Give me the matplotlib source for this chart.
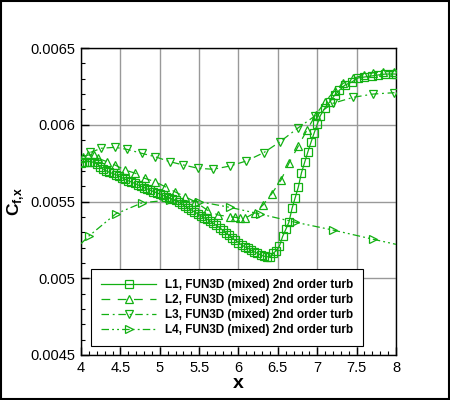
import matplotlib
matplotlib.use('Agg')
import matplotlib.pyplot as plt
from matplotlib.patches import Rectangle

plt.rcParams['font.family'] = ['Liberation Sans', 'DejaVu Sans']
plt.rcParams['mathtext.fontset'] = 'custom'
plt.rcParams['mathtext.bf'] = 'Liberation Sans:bold'
plt.rcParams['mathtext.rm'] = 'Liberation Sans'

green = '#12b012'

# L1 - squares, solid
x1 = [4.00, 4.04, 4.08, 4.12, 4.16, 4.20, 4.24, 4.28, 4.32, 4.36, 4.40, 4.44,
      4.48, 4.52, 4.56, 4.60, 4.64, 4.68, 4.72, 4.76, 4.80, 4.84, 4.88, 4.92,
      4.96, 5.00, 5.04, 5.08, 5.12, 5.16, 5.20, 5.24, 5.28, 5.32, 5.36, 5.40,
      5.44, 5.48, 5.52, 5.56, 5.60, 5.64, 5.68, 5.72, 5.76, 5.80, 5.84, 5.88,
      5.92, 5.96, 6.00, 6.04, 6.08, 6.12, 6.16, 6.20, 6.24, 6.28, 6.32, 6.36,
      6.40, 6.44, 6.48, 6.52, 6.56, 6.60, 6.64, 6.68, 6.72, 6.76, 6.80, 6.84,
      6.88, 6.92, 6.96, 7.00, 7.04, 7.10, 7.16, 7.22, 7.28, 7.35, 7.44, 7.52,
      7.60, 7.69, 7.77, 7.86, 7.96, 8.00]
y1 = [0.005750, 0.005755, 0.005760, 0.005760, 0.005755, 0.005745, 0.005728, 0.005712,
      0.005700, 0.005690, 0.005683, 0.005675, 0.005665, 0.005655, 0.005645, 0.005635,
      0.005627, 0.005618, 0.005609, 0.005600, 0.005591, 0.005582, 0.005573, 0.005565,
      0.005557, 0.005549, 0.005540, 0.005532, 0.005524, 0.005515, 0.005507, 0.005497,
      0.005485, 0.005470, 0.005457, 0.005445, 0.005433, 0.005421, 0.005408, 0.005395,
      0.005385, 0.005372, 0.005358, 0.005344, 0.005330, 0.005312, 0.005296, 0.005280,
      0.005262, 0.005248, 0.005232, 0.005217, 0.005205, 0.005195, 0.005183, 0.005172,
      0.005163, 0.005152, 0.005144, 0.005140, 0.005141, 0.005162, 0.005180, 0.005210,
      0.005272, 0.005318, 0.005365, 0.005455, 0.005525, 0.005595, 0.005688, 0.005755,
      0.005822, 0.005885, 0.005945, 0.006003, 0.006060, 0.006112, 0.006150, 0.006192,
      0.006224, 0.006258, 0.006279, 0.006305, 0.006311, 0.006318, 0.006324, 0.006330,
      0.006331, 0.006330]

# L2 - up triangles, dashed
x2 = [4.03, 4.09, 4.16, 4.22, 4.33, 4.43, 4.56, 4.69, 4.81, 4.94, 5.07, 5.19,
      5.32, 5.45, 5.60, 5.74, 5.89, 5.96, 6.02, 6.08, 6.21, 6.31, 6.42, 6.54,
      6.64, 6.76, 6.87, 6.98, 7.10, 7.22, 7.33, 7.46, 7.59, 7.71, 7.84, 7.98]
y2 = [0.005792, 0.005803, 0.005803, 0.005781, 0.005759, 0.005738, 0.005705, 0.005684,
      0.005651, 0.005629, 0.005596, 0.005564, 0.005531, 0.005499, 0.005445, 0.005412,
      0.005401, 0.005397, 0.005390, 0.005390, 0.005427, 0.005477, 0.005549, 0.005640,
      0.005749, 0.005862, 0.005966, 0.006064, 0.006150, 0.006222, 0.006270, 0.006303,
      0.006324, 0.006339, 0.006346, 0.006346]

# L3 - down triangles, dash-dot
x3 = [4.12, 4.26, 4.43, 4.58, 4.77, 4.94, 5.13, 5.30, 5.49, 5.68, 5.89, 6.10,
      6.32, 6.53, 6.75, 6.97, 7.20, 7.46, 7.71, 7.98]
y3 = [0.005820, 0.005847, 0.005853, 0.005840, 0.005814, 0.005792, 0.005759, 0.005738,
      0.005716, 0.005710, 0.005731, 0.005764, 0.005818, 0.005890, 0.005977, 0.006057,
      0.006140, 0.006179, 0.006200, 0.006209]

# L4 - right triangles, dash-dot-dot
x4 = [4.00, 4.10, 4.44, 4.78, 5.13, 5.50, 5.89, 6.27, 6.72, 7.20, 7.71, 8.00]
y4 = [0.005225, 0.005275, 0.005419, 0.005492, 0.005510, 0.005499, 0.005462, 0.005419,
      0.005365, 0.005314, 0.005254, 0.005221]

label = 'FUN3D (mixed) 2nd order turb'

fig = plt.figure(figsize=(4.5, 4.0), dpi=100)
ax = fig.add_axes([0.18, 0.1125, 0.70, 0.7675])

lw = 0.9
ax.plot(x1, y1, color=green, lw=lw, ls='-', marker='s', ms=5.2, mfc='none',
        mec=green, mew=0.9, label='L1, ' + label, zorder=3)
ax.plot(x2, y2, color=green, lw=lw, ls=(0, (7, 6)), marker='^', ms=6.2, mfc='none',
        mec=green, mew=0.9, label='L2, ' + label, zorder=3)
ax.plot(x3, y3, color=green, lw=lw, ls=(0, (6, 3, 1.5, 3)), marker='v', ms=6.2,
        mfc='none', mec=green, mew=0.9, label='L3, ' + label, zorder=3)
ax.plot(x4, y4, color=green, lw=lw, ls=(0, (6, 2.5, 1.5, 2.5, 1.5, 2.5)), marker='>',
        ms=6.2, mfc='none', mec=green, mew=0.9, markevery=list(range(1, len(x4) - 1)),
        label='L4, ' + label, zorder=3)

ax.set_xlim(4, 8)
ax.set_ylim(0.0045, 0.0065)
ax.set_xticks([4, 4.5, 5, 5.5, 6, 6.5, 7, 7.5, 8])
ax.set_xticklabels(['4', '4.5', '5', '5.5', '6', '6.5', '7', '7.5', '8'])
ax.set_yticks([0.0045, 0.005, 0.0055, 0.006, 0.0065])
ax.set_yticklabels(['0.0045', '0.005', '0.0055', '0.006', '0.0065'])
ax.set_xticks([4 + 0.1 * i for i in range(41)], minor=True)
ax.set_yticks([0.0045 + 0.0001 * i for i in range(21)], minor=True)
ax.tick_params(which='both', direction='in', labelsize=10.5)
ax.tick_params(which='major', length=6, width=1, pad=4)
ax.tick_params(which='minor', length=3, width=0.8)
ax.grid(True, which='major', color='#999999', lw=1.0, zorder=0)
for s in ax.spines.values():
    s.set_linewidth(1.0)

ax.set_xlabel('x', fontsize=14, fontweight='bold', labelpad=0)
ax.set_ylabel(r'$\mathbf{C}_{\mathbf{f{,}x}}$', fontsize=12.5, labelpad=3)

leg = ax.legend(loc='lower left', bbox_to_anchor=(0.032, 0.030),
                prop={'weight': 'bold', 'size': 8.5}, frameon=True, fancybox=False,
                edgecolor='black', framealpha=1, handlelength=4.65, handletextpad=0.76,
                labelspacing=0.25, borderpad=0.85, borderaxespad=0)
leg.get_frame().set_linewidth(0.8)

fig.patches.append(Rectangle((0.002, 0.002), 0.996, 0.996, transform=fig.transFigure,
                             fill=False, edgecolor='black', lw=1.5))

fig.savefig('out.png', dpi=100)
